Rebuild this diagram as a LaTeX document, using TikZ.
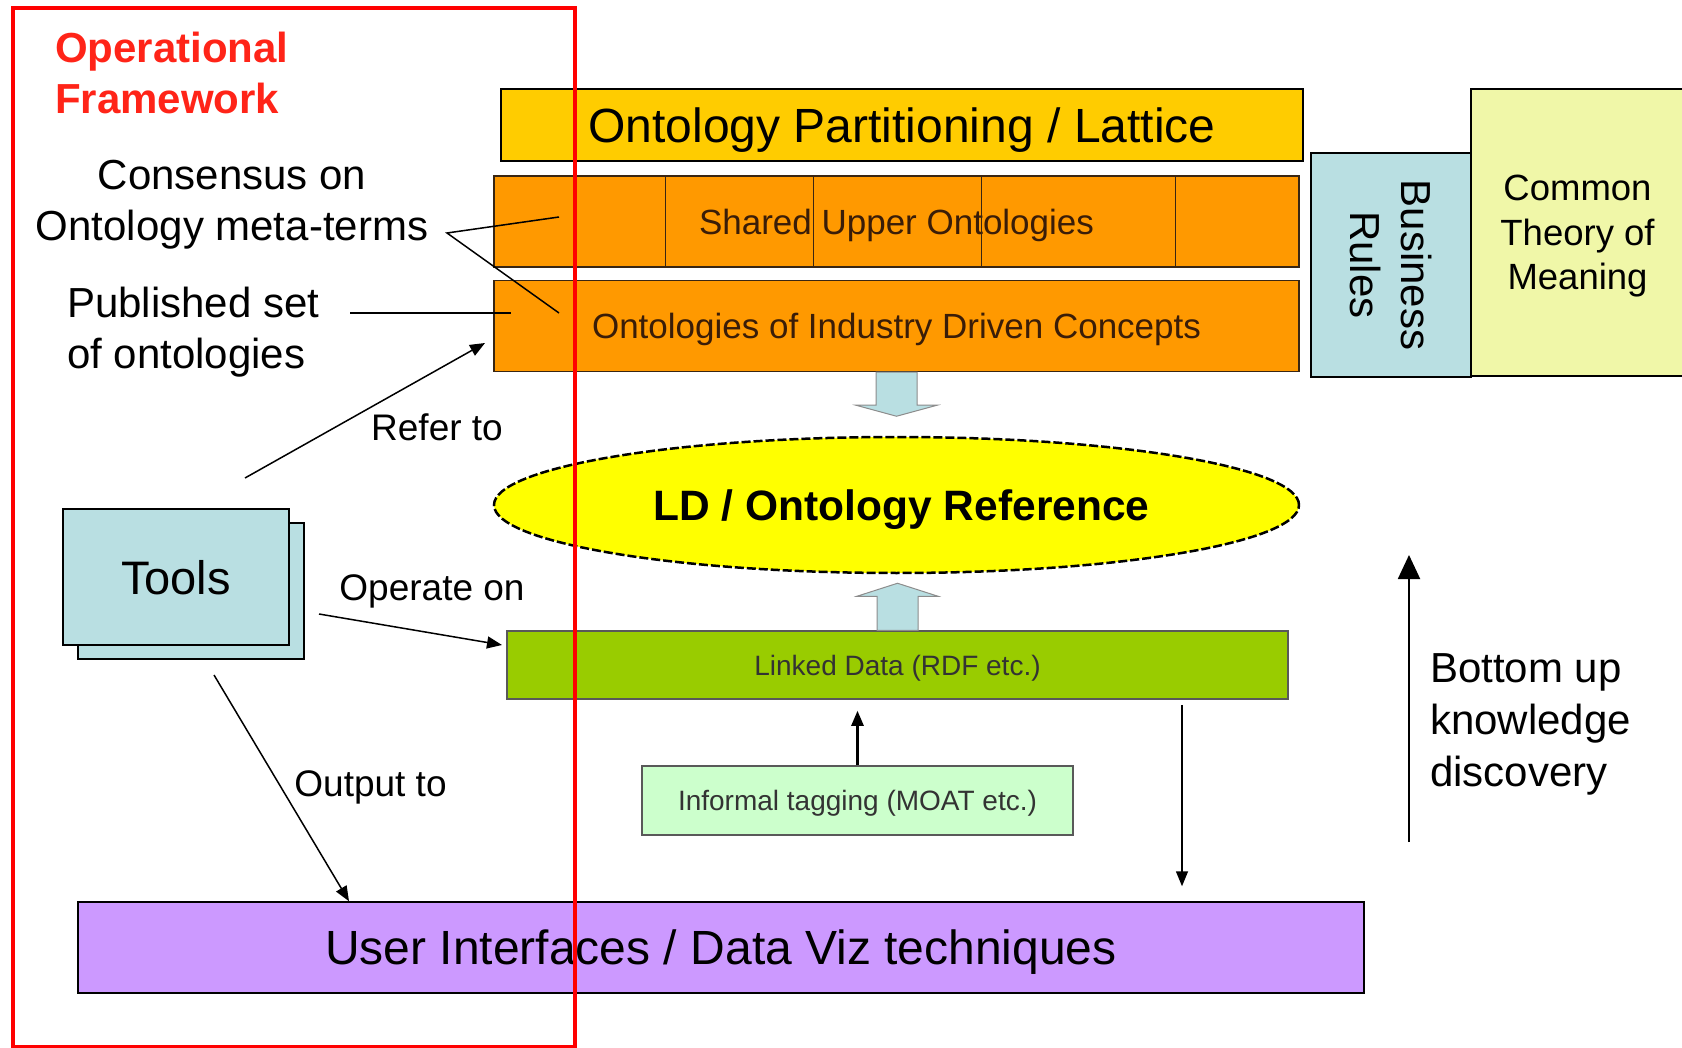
\documentclass[tikz,border=0pt]{standalone}
\usepackage{fontspec}
\setmainfont{Liberation Sans}
\usetikzlibrary{arrows.meta,positioning,shapes.geometric,shadows,calc}
\definecolor{latticeyellow}{HTML}{FFCC00}
\definecolor{ontoorange}{HTML}{FF9900}
\definecolor{refyellow}{HTML}{FFFF00}
\definecolor{paleblue}{HTML}{B9DFE2}
\definecolor{palelime}{HTML}{F0F7A8}
\definecolor{ldgreen}{HTML}{99CC00}
\definecolor{taggreen}{HTML}{CCFFCC}
\definecolor{uipurple}{HTML}{CC99FF}
\definecolor{ontotext}{HTML}{3A1D08}
\definecolor{opred}{HTML}{FF2418}

\begin{document}
\begin{tikzpicture}[
  x=1pt,y=-1pt,
  panel/.style={draw=black,line width=1.5pt,inner sep=0pt,align=center,text depth=0pt},
  onto/.style={panel,fill=ontoorange,draw=black!70!brown,minimum width=805pt,minimum height=91pt,text=ontotext,font=\fontsize{35}{42}\selectfont},
  notetext/.style={inner sep=0pt,font=\fontsize{42}{51}\selectfont},
  edgetext/.style={inner sep=0pt,font=\fontsize{37}{44}\selectfont},
  arrow/.style={-{Triangle[length=15pt,width=12pt]},line width=1.5pt},
  thinline/.style={line width=1.5pt},
  blockarrow/.style={fill=paleblue,draw=black!45,line width=1pt}
]
\useasboundingbox (0,0) rectangle (1682,1048);
\fill[white] (0,0) rectangle (1682,1048);

% top stack
\node[panel,fill=latticeyellow,minimum width=802pt,minimum height=72pt,font=\fontsize{48}{58}\selectfont] (lattice) at (902,125) {Ontology Partitioning / Lattice};
\node[onto] (upper) at (896.5,221.5) {Shared Upper Ontologies};
\node[onto,below=12pt of upper] (industry) {Ontologies of Industry Driven Concepts};
\foreach \xd in {665,813,981,1175}
  \draw[black!70!brown,line width=1pt] (upper.north -| \xd,0) -- (upper.south -| \xd,0);

% right side
\node[panel,fill=paleblue,rotate=-90,minimum width=224pt,minimum height=160pt,font=\fontsize{42}{51}\selectfont] (rules) at (1391,265) {Business\\Rules};
\node[panel,fill=palelime,minimum width=213pt,minimum height=287pt,font=\fontsize{36.5}{44.5}\selectfont] (meaning) at (1577.5,232.5) {Common\\Theory of\\Meaning};

% middle
\node[ellipse,fill=refyellow,draw=black,line width=2.5pt,dash pattern=on 9pt off 3pt,minimum width=805pt,minimum height=136pt,inner sep=0pt,text depth=0pt,font=\fontsize{42.5}{50}\bfseries\selectfont] (ldref) at (896.5,505) {\hspace*{10pt}LD / Ontology Reference};
\node[panel,fill=ldgreen,draw=black!65,minimum width=781pt,minimum height=68pt,text=black!80,font=\fontsize{28}{34}\selectfont] (linked) at (897.5,665) {Linked Data (RDF etc.)};
\node[panel,fill=taggreen,draw=black!65,minimum width=431pt,minimum height=69pt,text=black!80,font=\fontsize{28}{34}\selectfont] (tagging) at (857.5,800.5) {Informal tagging (MOAT etc.)};
\node[panel,fill=uipurple,minimum width=1286pt,minimum height=91pt,font=\fontsize{48}{58}\selectfont] (ui) at (721,947.5) {User Interfaces / Data Viz techniques};

\filldraw[blockarrow] ($(industry.south)+(-20.5,0)$) -- ++(0,33) -- ++(-20,0) -- ++(40.5,11) -- ++(40.5,-11) -- ++(-20,0) -- ++(0,-33) -- cycle;
\filldraw[blockarrow] ($(linked.north)+(-20.5,0)$) -- ++(0,-34) -- ++(-20,0) -- ++(40.5,-13) -- ++(40.5,13) -- ++(-20,0) -- ++(0,34) -- cycle;

\draw[arrow,line width=2.5pt,shorten >=11pt] (tagging.north) -- (tagging.north |- linked.south);
\draw[arrow,shorten <=5pt,shorten >=15pt] (linked.south -| 1182,0) -- (ui.north -| 1182,0);

\coordinate (bufrom) at (1409,842);
\coordinate (buto) at (1409,555);
\draw[-{Triangle[length=24pt,width=22pt]},line width=2pt] (bufrom) -- (buto);
\node[notetext,anchor=west,align=left,font=\fontsize{42}{52}\selectfont] (bottomup) at (1430,724) {Bottom up\\knowledge\\discovery};

% left side
\node[panel,fill=paleblue,minimum width=226pt,minimum height=136pt,font=\fontsize{47}{56}\selectfont,
  copy shadow={shadow xshift=15pt,shadow yshift=-14pt,fill=paleblue,draw=black,line width=1.5pt}] (tools) at (176,577) {Tools};

\node[notetext,anchor=west,align=left,text=opred,font=\fontsize{42}{51}\bfseries\selectfont] (opframe) at (55,72.5) {Operational\\Framework};
\node[notetext,align=center] (consensus) at (232,205) {Consensus on\\Ontology meta-terms};
\node[notetext,anchor=west,align=left] (published) at (67,332) {Published set\\of ontologies};

\coordinate (consfork) at (447,233);
\coordinate (consup) at (559,217);
\coordinate (consind) at (559,313);
\draw[thinline] (consup) -- (consfork) -- (consind);
\coordinate (pubfrom) at (350,313);
\coordinate (pubto) at (511,313);
\draw[thinline] (pubfrom) -- (pubto);

\coordinate (referfrom) at (245,478);
\coordinate (referto) at (485,343);
\draw[arrow] (referfrom) -- (referto);
\node[edgetext,anchor=west] (refertxt) at (371,427) {Refer to};

\coordinate (operfrom) at (319,614);
\coordinate (operto) at (502,645);
\draw[arrow] (operfrom) -- (operto);
\node[edgetext] (operatetxt) at (432,591) {Operate on};

\coordinate (outfrom) at (214,675);
\draw[arrow] (outfrom) -- (ui.north -| 349,0);
\node[edgetext] (outputtxt) at (370.5,787) {Output to};

% operational frame on top
\node[draw=red,line width=4pt,minimum width=562pt,minimum height=1039pt,inner sep=0pt] (opbox) at (294,527.5) {};
\end{tikzpicture}
\end{document}
